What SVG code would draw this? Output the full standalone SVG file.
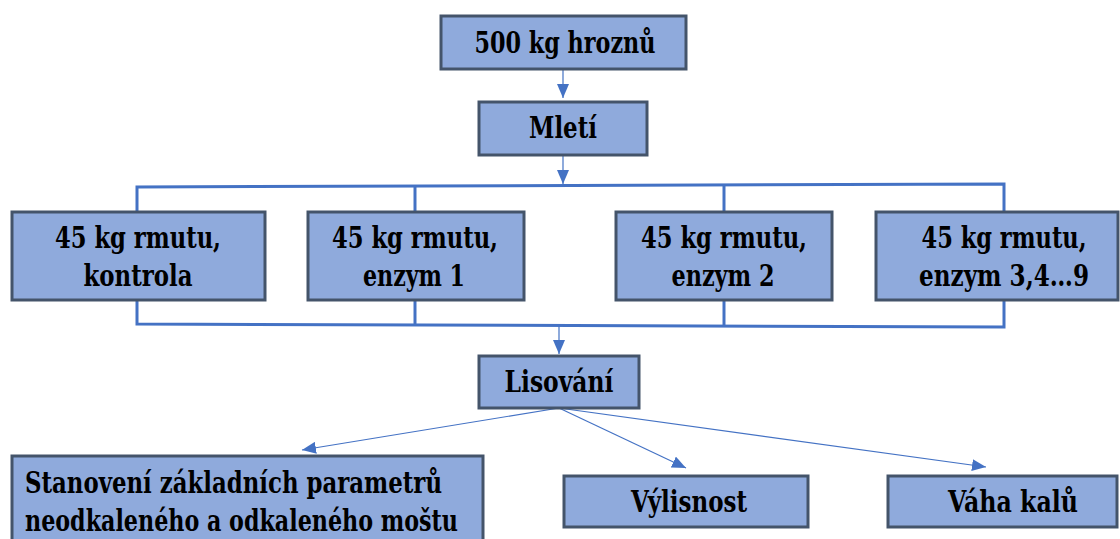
<svg xmlns="http://www.w3.org/2000/svg" width="1120" height="539" viewBox="0 0 1120 539">
<defs>
<style>
.box{fill:#8FAADC;stroke:#44546A;stroke-width:3}
text{font-family:'DejaVu Serif Condensed','DejaVu Serif',serif;font-weight:700;font-size:29px;fill:#000}
.t{text-anchor:middle}
.br{fill:none;stroke:#4472C4;stroke-width:3}
.ar{fill:none;stroke:#4472C4;stroke-width:1.2}
</style>
<marker id="ah" markerUnits="userSpaceOnUse" markerWidth="14" markerHeight="12" viewBox="0 0 14 12" refX="14" refY="6" orient="auto">
<path d="M0,0 L14,6 L0,12 Z" fill="#4472C4"/>
</marker>
</defs>
<rect width="1120" height="539" fill="#fff"/>
<g id="connectors">
<polyline class="br" points="137,212 137,187 1004,184 1004,212"/>
<line class="br" x1="415" y1="186" x2="415" y2="212"/>
<line class="br" x1="724" y1="185" x2="724" y2="212"/>
<polyline class="br" points="137,300 137,324 1004,327 1004,300"/>
<line class="br" x1="415" y1="300" x2="415" y2="325"/>
<line class="br" x1="724" y1="300" x2="724" y2="326"/>
<line class="ar" x1="563" y1="69" x2="563" y2="98" marker-end="url(#ah)"/>
<line class="ar" x1="563" y1="155" x2="563" y2="184" marker-end="url(#ah)"/>
<line class="ar" x1="559" y1="326" x2="559" y2="354" marker-end="url(#ah)"/>
<line class="ar" x1="559" y1="408" x2="302" y2="450" marker-end="url(#ah)"/>
<line class="ar" x1="559" y1="408" x2="686" y2="468" marker-end="url(#ah)"/>
<line class="ar" x1="559" y1="408" x2="986" y2="467" marker-end="url(#ah)"/>
</g>
<g id="n1"><rect class="box" x="441" y="16" width="245" height="53"/><text class="t" x="565" y="53" textLength="181" lengthAdjust="spacingAndGlyphs">500 kg hroznů</text></g>
<g id="n2"><rect class="box" x="479" y="102" width="168" height="53"/><text class="t" x="563" y="138" textLength="68" lengthAdjust="spacingAndGlyphs">Mletí</text></g>
<g id="n3"><rect class="box" x="12" y="212" width="253" height="88"/><text class="t" x="138" y="248" textLength="166" lengthAdjust="spacingAndGlyphs">45 kg rmutu,</text><text class="t" x="138" y="286" textLength="109" lengthAdjust="spacingAndGlyphs">kontrola</text></g>
<g id="n4"><rect class="box" x="308" y="212" width="216" height="88"/><text class="t" x="415" y="248" textLength="166" lengthAdjust="spacingAndGlyphs">45 kg rmutu,</text><text class="t" x="414" y="286" textLength="102" lengthAdjust="spacingAndGlyphs">enzym 1</text></g>
<g id="n5"><rect class="box" x="616" y="212" width="216" height="88"/><text class="t" x="724" y="248" textLength="166" lengthAdjust="spacingAndGlyphs">45 kg rmutu,</text><text class="t" x="723" y="286" textLength="103" lengthAdjust="spacingAndGlyphs">enzym 2</text></g>
<g id="n6"><rect class="box" x="876" y="212" width="242" height="88"/><text class="t" x="1004" y="248" textLength="165" lengthAdjust="spacingAndGlyphs">45 kg rmutu,</text><text class="t" x="1004" y="286" textLength="170" lengthAdjust="spacingAndGlyphs">enzym 3,4…9</text></g>
<g id="n7"><rect class="box" x="479" y="356" width="160" height="52"/><text class="t" x="559" y="392" textLength="109" lengthAdjust="spacingAndGlyphs">Lisování</text></g>
<g id="n8"><rect class="box" x="12" y="456" width="471" height="90"/><text x="25" y="493" textLength="417" lengthAdjust="spacingAndGlyphs">Stanovení základních parametrů</text><text x="25" y="531" textLength="433" lengthAdjust="spacingAndGlyphs">neodkaleného a odkaleného moštu</text></g>
<g id="n9"><rect class="box" x="564" y="476" width="244" height="51"/><text class="t" x="689" y="512" textLength="116" lengthAdjust="spacingAndGlyphs">Výlisnost</text></g>
<g id="n10"><rect class="box" x="888" y="476" width="229" height="51"/><text class="t" x="1013" y="512" textLength="130" lengthAdjust="spacingAndGlyphs">Váha kalů</text></g>
</svg>
